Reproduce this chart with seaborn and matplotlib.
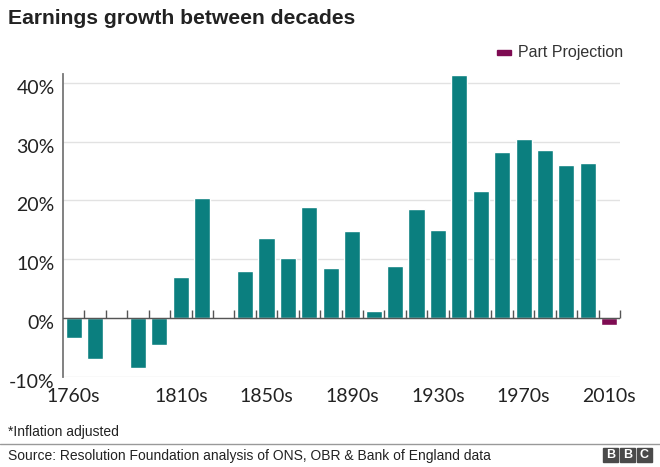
import matplotlib
matplotlib.use("Agg")
import matplotlib.pyplot as plt
import matplotlib.transforms as mtransforms
from matplotlib.patches import Rectangle
from matplotlib.lines import Line2D
import pandas as pd
import seaborn as sns

# data
decades = ["1760s", "1770s", "1780s", "1790s", "1800s", "1810s", "1820s",
           "1830s", "1840s", "1850s", "1860s", "1870s", "1880s", "1890s",
           "1900s", "1910s", "1920s", "1930s", "1940s", "1950s", "1960s",
           "1970s", "1980s", "1990s", "2000s", "2010s"]
growth = [-3.3, -6.9, 0.0, -8.5, -4.5, 7.0, 20.5,
          -0.1, 8.1, 13.6, 10.3, 18.9, 8.6, 14.8,
          1.2, 8.9, 18.6, 15.0, 41.4, 21.6, 28.2,
          30.5, 28.5, 26.0, 26.4, -1.2]
status = ["Actual"] * 25 + ["Part Projection"]
shown_labels = ["1760s", "1810s", "1850s", "1890s", "1930s", "1970s", "2010s"]
y_ticks = [-10, 0, 10, 20, 30, 40]
y_tick_labels = ["-10%", "0%", "10%", "20%", "30%", "40%"]

TEAL = "#0b7f7f"
PURPLE = "#7e0b52"

sns.set_style("white")
plt.rcParams["font.family"] = ["Liberation Sans", "DejaVu Sans"]

df = pd.DataFrame({"decade": decades, "growth": growth, "status": status})

W, H = 660, 467
fig = plt.figure(figsize=(6.6, 4.67), dpi=100)
ax = fig.add_axes([63 / W, 1 - 377 / H, (620 - 63) / W, (377 - 74) / H])

sns.barplot(data=df, x="decade", y="growth", hue="status",
            palette={"Actual": TEAL, "Part Projection": PURPLE},
            dodge=False, width=0.75, saturation=1, errorbar=None,
            legend=False, ax=ax)

ax.set_xlim(-0.5, len(decades) - 0.5)
ax.set_ylim(-10, 41.5)
ax.set_yticks(y_ticks)
ax.set_yticklabels(y_tick_labels)
ax.set_xticks([decades.index(d) for d in shown_labels])
ax.set_xticklabels(shown_labels)
ax.set_xlabel("")
ax.set_ylabel("")
ax.tick_params(length=0, labelsize=14, colors="#222222")
ax.tick_params(axis="y", pad=6)
ax.tick_params(axis="x", pad=8)
for lab in ax.get_xticklabels() + ax.get_yticklabels():
    lab.set_fontfamily("Lato")
shift = mtransforms.ScaledTranslation(0, -4 / 100, fig.dpi_scale_trans)
for lab in ax.get_yticklabels():
    lab.set_transform(lab.get_transform() + shift)

ax.grid(axis="y", color="#e2e2e2", lw=1)
ax.set_axisbelow(True)
for s in ["top", "right", "bottom"]:
    ax.spines[s].set_visible(False)
ax.spines["left"].set_color("#777777")
ax.spines["left"].set_linewidth(1.3)

# zero line with little ticks between the bars
ax.axhline(0, color="#555555", lw=1, zorder=3)
boundaries = [i + 0.5 for i in range(len(decades))]
ax.vlines(boundaries, 0, 1.4, color="#555555", lw=1, zorder=3, clip_on=False)

# title and legend
fig.text(8 / W, 1 - 19 / H, "Earnings growth between decades", fontsize=15.2,
         fontweight="bold", va="center", color="#222222")
fig.patches.append(Rectangle((497 / W, 1 - 55 / H), 14 / W, 5 / H,
                             transform=fig.transFigure, color=PURPLE))
fig.text(518 / W, 1 - 52.5 / H, "Part Projection", fontsize=11.5,
         va="center", color="#333333")

# footer
fig.text(8 / W, 1 - 432 / H, "*Inflation adjusted", fontsize=10,
         va="center", color="#222222")
fig.add_artist(Line2D([0, 1], [1 - 444 / H] * 2, color="#999999", lw=1))
fig.text(8 / W, 1 - 456 / H,
         "Source: Resolution Foundation analysis of ONS, OBR & Bank of England data",
         fontsize=10, va="center", color="#222222")
for x0, letter in zip([603, 620, 637], ["B", "B", "C"]):
    fig.patches.append(Rectangle((x0 / W, 1 - 462 / H), 15 / W, 14 / H,
                                 transform=fig.transFigure, color="#4a4a4a"))
    fig.text((x0 + 7.5) / W, 1 - 455 / H, letter, fontsize=9, fontweight="bold",
             color="white", ha="center", va="center")

fig.savefig("out.png", dpi=100)
